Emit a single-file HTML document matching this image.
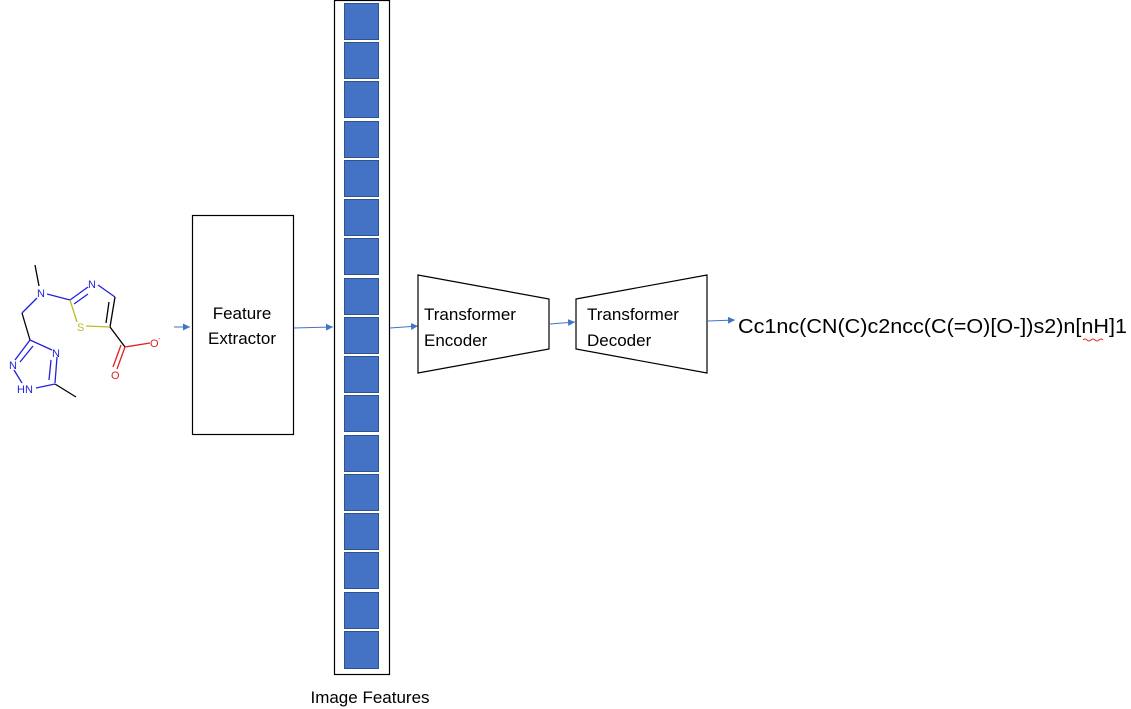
<!DOCTYPE html>
<html><head><style>
body{margin:0;background:#fff;}
svg{display:block}
text{font-family:"Liberation Sans",sans-serif}
</style></head><body>
<svg width="1131" height="709" viewBox="0 0 1131 709" xmlns="http://www.w3.org/2000/svg">
<defs><marker id="a" markerWidth="8" markerHeight="8" refX="7" refY="4" orient="auto" markerUnits="userSpaceOnUse"><path d="M0,0.5 L7,4 L0,7.5z" fill="#4472c4"/></marker></defs>
<g stroke-width="1.3" fill="none">
<line x1="35" y1="265" x2="39" y2="286" stroke="#000"/>
<line x1="37" y1="298" x2="22" y2="313" stroke="#2222dd"/>
<line x1="22" y1="313" x2="30" y2="340" stroke="#000"/>
<line x1="47" y1="294" x2="70" y2="300" stroke="#2222dd"/>
<line x1="70" y1="300" x2="88" y2="287" stroke="#2222dd"/>
<line x1="74" y1="304" x2="88" y2="294" stroke="#2222dd"/>
<line x1="98" y1="285" x2="115" y2="297" stroke="#2222dd"/>
<line x1="115" y1="297" x2="110" y2="327" stroke="#000"/>
<line x1="109" y1="302" x2="106" y2="323" stroke="#000"/>
<line x1="110" y1="327" x2="86" y2="326" stroke="#bbbb22"/>
<line x1="77" y1="322" x2="70" y2="300" stroke="#bbbb22"/>
<line x1="110" y1="327" x2="125" y2="347" stroke="#000"/>
<line x1="125" y1="347" x2="150" y2="343" stroke="#dd2222"/>
<line x1="125" y1="347" x2="117" y2="369" stroke="#dd2222"/>
<line x1="121" y1="345" x2="113" y2="367" stroke="#dd2222"/>
<line x1="30" y1="340" x2="52" y2="350" stroke="#2222dd"/>
<line x1="30" y1="340" x2="15" y2="360" stroke="#2222dd"/>
<line x1="33" y1="346" x2="20" y2="362" stroke="#2222dd"/>
<line x1="57" y1="357" x2="55" y2="383" stroke="#2222dd"/>
<line x1="51" y1="360" x2="49" y2="380" stroke="#2222dd"/>
<line x1="55" y1="384" x2="36" y2="388" stroke="#2222dd"/>
<line x1="55" y1="384" x2="76" y2="397" stroke="#000"/>
<line x1="14" y1="370" x2="22" y2="383" stroke="#2222dd"/>
</g>
<g font-size="11">
<text x="37" y="297" fill="#2222dd">N</text>
<text x="88" y="288" fill="#2222dd">N</text>
<text x="77" y="331" fill="#bbbb22">S</text>
<text x="150" y="347" fill="#dd2222">O</text>
<text x="158" y="341" fill="#dd2222" font-size="7">-</text>
<text x="111" y="379" fill="#dd2222">O</text>
<text x="52" y="357" fill="#2222dd">N</text>
<text x="9" y="369" fill="#2222dd">N</text>
<text x="17" y="393" fill="#2222dd">HN</text>
</g>
<g stroke="#4472c4" stroke-width="1" fill="none">
<line x1="174" y1="327" x2="190" y2="327" marker-end="url(#a)"/>
<line x1="293" y1="328" x2="333" y2="327" marker-end="url(#a)"/>
<line x1="390" y1="328" x2="418" y2="326" marker-end="url(#a)"/>
<line x1="550" y1="324" x2="575" y2="322" marker-end="url(#a)"/>
<line x1="708" y1="321" x2="735" y2="320" marker-end="url(#a)"/>
</g>
<rect x="192.5" y="215.5" width="101" height="219" fill="none" stroke="#000" stroke-width="1.2"/>
<text x="242" y="319" font-size="17" text-anchor="middle">Feature</text>
<text x="242" y="344" font-size="17" text-anchor="middle">Extractor</text>
<rect x="334.5" y="0.5" width="55" height="674" fill="none" stroke="#000" stroke-width="1.2"/>
<g fill="#4472c4" stroke="#2f528f" stroke-width="1">
<rect x="344.5" y="3.5" width="34" height="36"/><rect x="344.5" y="42.5" width="34" height="36"/><rect x="344.5" y="81.5" width="34" height="36"/><rect x="344.5" y="121.5" width="34" height="36"/><rect x="344.5" y="160.5" width="34" height="36"/><rect x="344.5" y="199.5" width="34" height="36"/><rect x="344.5" y="238.5" width="34" height="36"/><rect x="344.5" y="278.5" width="34" height="36"/><rect x="344.5" y="317.5" width="34" height="36"/><rect x="344.5" y="356.5" width="34" height="36"/><rect x="344.5" y="395.5" width="34" height="36"/><rect x="344.5" y="435.5" width="34" height="36"/><rect x="344.5" y="474.5" width="34" height="36"/><rect x="344.5" y="513.5" width="34" height="36"/><rect x="344.5" y="552.5" width="34" height="36"/><rect x="344.5" y="592.5" width="34" height="36"/><rect x="344.5" y="631.5" width="34" height="37"/>
</g>
<text x="370" y="703" font-size="17" text-anchor="middle">Image Features</text>
<polygon points="418,275 549,299 549,349 418,373" fill="#fff" stroke="#000" stroke-width="1.2"/>
<text x="424" y="320" font-size="17">Transformer</text>
<text x="424" y="346" font-size="17">Encoder</text>
<polygon points="576,299 707,275 707,373 576,349" fill="#fff" stroke="#000" stroke-width="1.2"/>
<text x="587" y="320" font-size="17">Transformer</text>
<text x="587" y="346" font-size="17">Decoder</text>
<text x="738" y="333" font-size="20" textLength="389" lengthAdjust="spacingAndGlyphs">Cc1nc(CN(C)c2ncc(C(=O)[O-])s2)n[nH]1</text>
<path d="M1083,340 q2,-2 4,0 t4,0 t4,0 t4,0 t4,0" stroke="#e03030" fill="none" stroke-width="1"/>
</svg>
</body></html>
